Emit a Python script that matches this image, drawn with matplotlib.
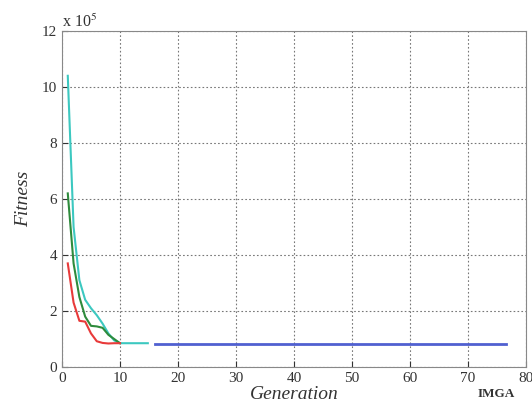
import numpy as np
import matplotlib
matplotlib.use('Agg')
import matplotlib.pyplot as plt

plt.rcParams['font.family'] = ['Liberation Serif', 'DejaVu Serif']
plt.rcParams['mathtext.fontset'] = 'stix'

# fitness values in units of 1e5
gen_a = [1, 2, 3, 4, 5, 6, 7, 8, 9, 10]
red_fit = [3.7, 2.3, 1.65, 1.62, 1.2, 0.92, 0.86, 0.84, 0.85, 0.85]
green_fit = [6.2, 3.7, 2.5, 1.8, 1.47, 1.45, 1.4, 1.15, 1.0, 0.85]
gen_c = [1, 2, 3, 4, 5, 6, 7, 8, 9, 10, 11, 12, 13, 14, 14.8]
cyan_fit = [10.4, 5.0, 3.1, 2.4, 2.1, 1.85, 1.55, 1.2, 0.95, 0.85,
            0.85, 0.85, 0.85, 0.85, 0.85]
gen_b = [16, 20, 30, 40, 50, 60, 70, 76.5]
blue_fit = [0.81, 0.81, 0.81, 0.81, 0.81, 0.81, 0.81, 0.81]

fig = plt.figure(figsize=(5.32, 4.05), dpi=100)
ax = fig.add_axes([0.1165, 0.0938, 0.8722, 0.8297])

ax.plot(gen_c, cyan_fit, color='#3cc8c0', lw=1.5)
ax.plot(gen_a, green_fit, color='#2e8b3c', lw=1.5)
ax.plot(gen_a, red_fit, color='#e83a3a', lw=1.5)
ax.plot(gen_b, blue_fit, color='#5060d0', lw=2.0)

ax.set_xlim(0, 80)
ax.set_ylim(0, 12)
ax.set_xticks(np.arange(0, 81, 10))
ax.set_yticks(np.arange(0, 13, 2))
ax.grid(True, color='#777777', ls=(0, (1.5, 2)), lw=0.8)
ax.tick_params(direction='in', labelsize=11, colors='#333333', length=4)
for s in ax.spines.values():
    s.set_color('#888888')

ax.set_xlabel('Generation', fontsize=14, style='italic', color='#333333',
              labelpad=1)
ax.set_ylabel('Fitness', fontsize=14, style='italic', color='#333333',
              labelpad=7)
ax.text(0.0, 1.0, r'x 10$^5$', transform=ax.transAxes, fontsize=11.5,
        color='#333333', va='bottom')
fig.text(0.898, 0.012, 'IMGA', fontsize=9.5, fontweight='bold',
         color='#333333', ha='left', va='bottom')

fig.savefig('out.png', dpi=100)
